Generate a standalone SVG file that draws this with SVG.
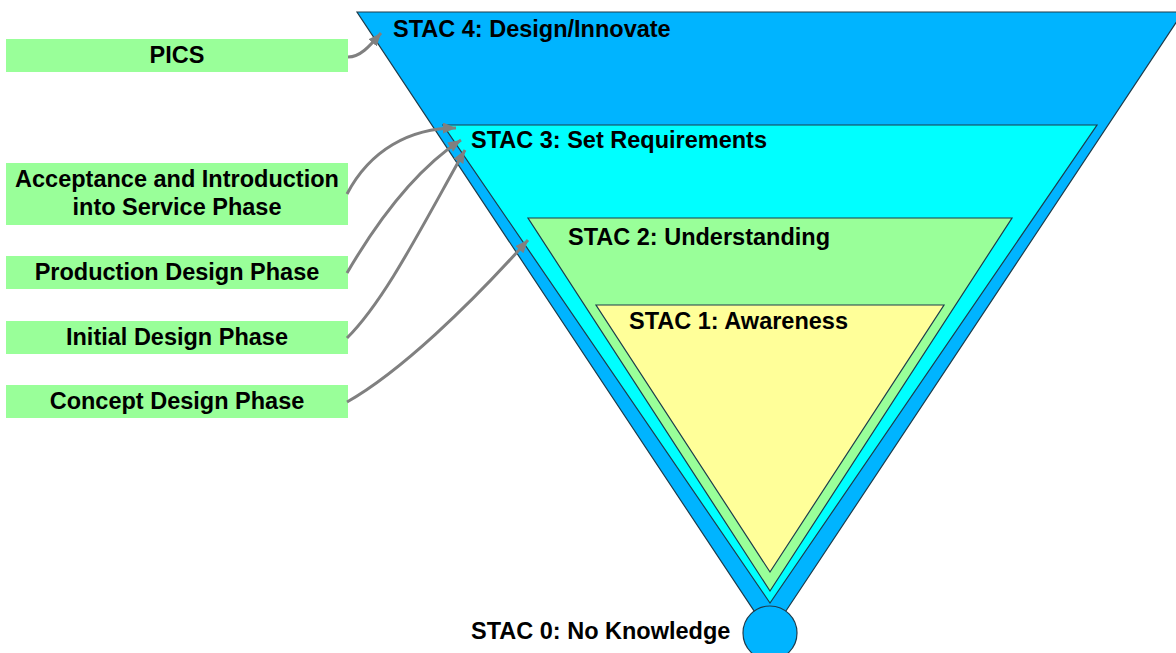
<svg xmlns="http://www.w3.org/2000/svg" width="1176" height="653" viewBox="0 0 1176 653">
<style>
.lvl{stroke:#1d3c4c;stroke-width:1.2;stroke-linejoin:miter}
.box{fill:#99FF99}
.t{font-family:"Liberation Sans",Arial,sans-serif;font-weight:bold;font-size:23.5px;fill:#000}
.c{text-anchor:middle}
.con{fill:none;stroke:#808080;stroke-width:3}
</style>
<defs>
<marker id="arr" markerUnits="userSpaceOnUse" markerWidth="14" markerHeight="12" refX="13" refY="5.5" orient="auto">
<path d="M0,0 L13,5.5 L0,11 z" fill="#808080"/>
</marker>
</defs>
<rect width="1176" height="653" fill="#fff"/>
<g id="stac4">
<polygon class="lvl" points="357,12 1183,12 770,635" fill="#00B4FF"/>
<text class="t" x="393" y="37">STAC 4: Design/Innovate</text>
</g>
<g id="stac3">
<polygon class="lvl" points="443,125 1097,125 770,603" fill="#00FFFF"/>
<text class="t" x="471" y="148">STAC 3: Set Requirements</text>
</g>
<g id="stac2">
<polygon class="lvl" points="528,218 1012,218 770,591" fill="#99FF99"/>
<text class="t" x="568" y="245">STAC 2: Understanding</text>
</g>
<g id="stac1">
<polygon class="lvl" points="596,305 944,305 770,572" fill="#FFFF99"/>
<text class="t" x="629" y="329">STAC 1: Awareness</text>
</g>
<g id="stac0">
<circle class="lvl" cx="770" cy="633" r="27" fill="#00B4FF"/>
<text class="t" x="471" y="638.5">STAC 0: No Knowledge</text>
</g>
<g id="pics">
<rect class="box" x="6" y="39" width="342" height="33"/>
<text class="t c" x="177" y="63">PICS</text>
</g>
<g id="acceptance">
<rect class="box" x="6" y="163" width="342" height="62"/>
<text class="t c" x="177" y="186.5">Acceptance and Introduction</text>
<text class="t c" x="177" y="215">into Service Phase</text>
</g>
<g id="production">
<rect class="box" x="6" y="256" width="342" height="33"/>
<text class="t c" x="177" y="279.5">Production Design Phase</text>
</g>
<g id="initial">
<rect class="box" x="6" y="321" width="342" height="33"/>
<text class="t c" x="177" y="344.5">Initial Design Phase</text>
</g>
<g id="concept">
<rect class="box" x="6" y="385" width="342" height="33"/>
<text class="t c" x="177" y="408.5">Concept Design Phase</text>
</g>
<g id="connectors">
<path class="con" marker-end="url(#arr)" d="M348,57 C360,57 369,47 381,33"/>
<path class="con" marker-end="url(#arr)" d="M347,194 C370,150 410,128 456,128"/>
<path class="con" marker-end="url(#arr)" d="M347,273 C375,225 415,170 461,140"/>
<path class="con" marker-end="url(#arr)" d="M347,338 C385,300 420,230 465,150"/>
<path class="con" marker-end="url(#arr)" d="M347,402 C400,372 470,305 528,240"/>
</g>
</svg>
